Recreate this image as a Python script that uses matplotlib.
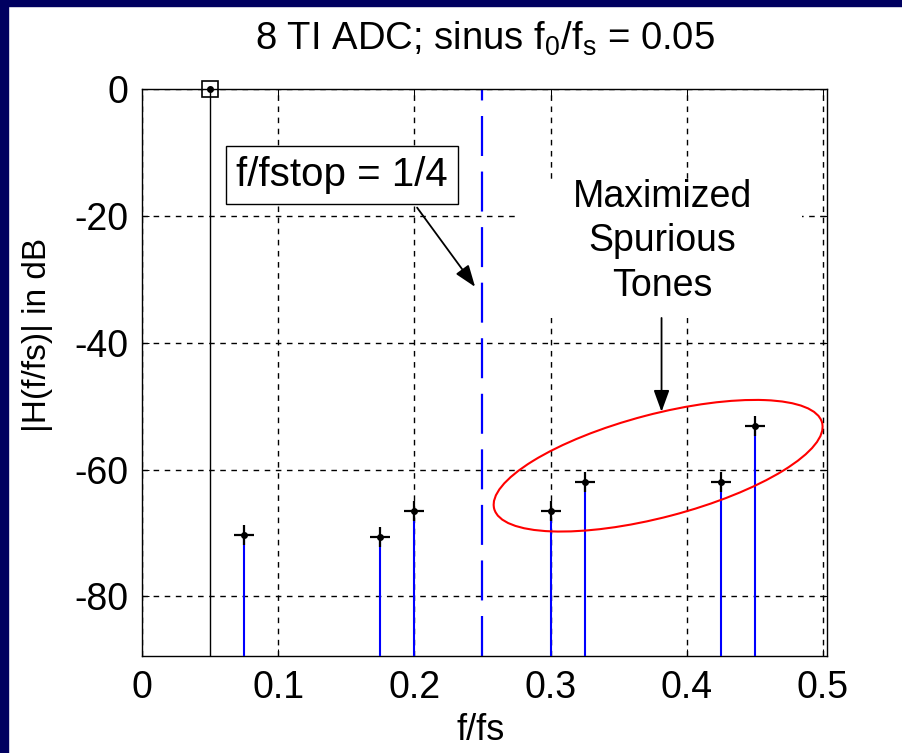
import numpy as np
import matplotlib
matplotlib.use("Agg")
import matplotlib.pyplot as plt
from matplotlib.patches import Ellipse, Rectangle
from matplotlib.transforms import ScaledTranslation

plt.rcParams["font.family"] = ["Liberation Sans", "DejaVu Sans"]
plt.rcParams["mathtext.fontset"] = "custom"
plt.rcParams["mathtext.rm"] = "Liberation Sans"
plt.rcParams["mathtext.it"] = "Liberation Sans"

# fundamental tone
f0 = [0.05]
mag0 = [0.0]
# spurious tones (f/fs, dB)
spur_f = [0.075, 0.175, 0.2, 0.3, 0.325, 0.425, 0.45]
spur_db = [-70.4, -70.7, -66.6, -66.6, -61.9, -61.9, -53.1]
f_stop = 0.25

xticks = [0, 0.1, 0.2, 0.3, 0.4, 0.5]
yticks = [-80, -60, -40, -20, 0]
y_floor = -89.4

fig = plt.figure(figsize=(9.02, 7.53), dpi=100)
fig.patch.set_facecolor("white")
navy = "#000060"
fig.patches.append(Rectangle((0, 0), 8 / 902, 1, transform=fig.transFigure, color=navy, zorder=0))
fig.patches.append(Rectangle((0, 1 - 6 / 753), 1, 6 / 753, transform=fig.transFigure, color=navy, zorder=0))

ax = fig.add_axes([142 / 902, 1 - 656 / 753, 685 / 902, 567 / 753])
ax.set_xlim(0, 0.503)
ax.set_ylim(y_floor, 0)

ax.grid(True, color="black", linestyle=(0, (4, 4)), linewidth=1.0, zorder=0)
ax.set_axisbelow(True)

# stems
ax.vlines(spur_f, y_floor, spur_db, color="blue", linewidth=1.5, zorder=3)
ax.vlines(f0, y_floor, mag0, color="black", linewidth=1.0, zorder=3)
ax.plot(spur_f, spur_db, linestyle="none", marker="+", color="black",
        markersize=14, markeredgewidth=1.6, zorder=4, clip_on=False)
ax.plot(spur_f, spur_db, linestyle="none", marker="o", color="black",
        markersize=4, zorder=4)
ax.plot(f0, mag0, linestyle="none", marker="s", markerfacecolor="none",
        markeredgecolor="black", markersize=11, markeredgewidth=1.2,
        zorder=4, clip_on=False)
ax.plot(f0, mag0, linestyle="none", marker="o", color="black",
        markersize=4, zorder=4, clip_on=False)

# stop-band edge
ax.axvline(f_stop, color="blue", linewidth=1.6, linestyle=(0, (18, 7)), zorder=2)

ax.set_xticks(xticks)
ax.set_xticklabels(["0", "0.1", "0.2", "0.3", "0.4", "0.5"])
ax.set_yticks(yticks)
ax.set_yticklabels(["-80", "-60", "-40", "-20", "0"])
ax.tick_params(direction="in", length=5, width=0.75, top=True, right=True,
               labelsize=27, pad=10)
for s in ax.spines.values():
    s.set_linewidth(1.0)

ax.set_title("8 TI ADC; sinus f$_0$/f$_s$ = 0.05", fontsize=27.5, pad=28)
ax.set_xlabel("f/fs", fontsize=26)
ax.xaxis.set_label_coords(0.495, -0.1)
ax.set_ylabel("|H(f/fs)| in dB", fontsize=24)
ax.yaxis.set_label_coords(-0.13, 0.566)

arrow_kw = dict(arrowstyle="-|>,head_length=1.1,head_width=0.4",
                color="black", lw=1.3, shrinkA=0, shrinkB=0, mutation_scale=12)

# annotations
ax.text(0.1468, -13.6, "f/fstop = 1/4", fontsize=29, ha="center", va="center",
        bbox=dict(boxstyle="square,pad=0.25", fc="white", ec="black", lw=1.0),
        zorder=6)
ax.annotate("", xy=(0.2446, -31.2), xytext=(0.202, -18.7),
            arrowprops=arrow_kw, zorder=6)

ax.add_patch(Rectangle((0.276, -36.1), 0.2086, 21.8, facecolor="white",
                       edgecolor="none", zorder=1.5))
ax.text(0.382, -24.0, "Maximized\nSpurious\nTones", fontsize=27,
        ha="center", va="center", linespacing=1.3, zorder=6)
ax.annotate("", xy=(0.3815, -50.9), xytext=(0.3815, -36.1),
            arrowprops=arrow_kw, zorder=6)

ell = Ellipse((0, 0), 3.39, 1.03, angle=14.7, fill=False, edgecolor="red",
              linewidth=1.5, zorder=5,
              transform=fig.dpi_scale_trans + ScaledTranslation(0.379, -59.4, ax.transData))
ax.add_patch(ell)

fig.savefig("out.png", dpi=100, facecolor=fig.get_facecolor())
